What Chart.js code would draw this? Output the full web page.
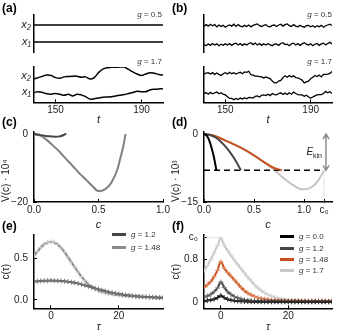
<!DOCTYPE html>
<html lang="en">
<head>
<meta charset="UTF-8">
<title>Potential and correlation panels</title>
<script src="https://cdn.jsdelivr.net/npm/chart.js"></script>
<style>
  body { margin: 0; width: 340px; height: 332px; background: #fff; position: relative; overflow: hidden;
         font-family: "Liberation Sans", Arial, sans-serif; }
  canvas { position: absolute; }
  .lbl { position: absolute; font-weight: bold; font-size: 12px; line-height: 12px; }
  .g { position: absolute; font-size: 8px; line-height: 9px; color: #333; white-space: nowrap; text-align: right; }
  .leg { position: absolute; font-size: 8px; line-height: 10px; color: #333; white-space: nowrap; }
  .leg .sw { display: inline-block; width: 14px; height: 3px; vertical-align: middle; margin-right: 5px; }
  .ekin { position: absolute; font-size: 10px; line-height: 10px; color: #222; }
  .ekin sub { font-size: 7px; }
</style>
</head>
<body>

<canvas id="aTop" width="175" height="45" style="left:0;top:10px"></canvas>
<canvas id="aBot" width="175" height="70" style="left:0;top:57px"></canvas>
<canvas id="bTop" width="170" height="45" style="left:170px;top:10px"></canvas>
<canvas id="bBot" width="170" height="70" style="left:170px;top:57px"></canvas>
<canvas id="chC" width="175" height="110" style="left:0;top:122px"></canvas>
<canvas id="chD" width="170" height="110" style="left:170px;top:122px"></canvas>
<canvas id="chE" width="175" height="107" style="left:0;top:225px"></canvas>
<canvas id="chF" width="170" height="107" style="left:170px;top:225px"></canvas>

<div class="lbl" style="left:2px;top:2px">(a)</div>
<div class="lbl" style="left:172px;top:2px">(b)</div>
<div class="lbl" style="left:2px;top:116px">(c)</div>
<div class="lbl" style="left:172px;top:116px">(d)</div>
<div class="lbl" style="left:2px;top:220px">(e)</div>
<div class="lbl" style="left:172px;top:220px">(f)</div>

<div class="g" style="right:178px;top:10px"><i>g</i> = 0.5</div>
<div class="g" style="right:178px;top:57px"><i>g</i> = 1.7</div>
<div class="g" style="right:8px;top:10px"><i>g</i> = 0.5</div>
<div class="g" style="right:8px;top:57px"><i>g</i> = 1.7</div>

<div class="ekin" style="right:18px;top:147px"><i>E</i><sub>kin</sub></div>

<div class="leg" style="left:112px;top:230px"><span class="sw" style="background:#454545"></span><i>g</i> = 1.2</div>
<div class="leg" style="left:112px;top:243px"><span class="sw" style="background:#8a8a8a"></span><i>g</i> = 1.48</div>

<div class="leg" style="left:280px;top:232px"><span class="sw" style="background:#000"></span><i>g</i> = 0.0</div>
<div class="leg" style="left:280px;top:243.5px"><span class="sw" style="background:#454545"></span><i>g</i> = 1.2</div>
<div class="leg" style="left:280px;top:255px"><span class="sw" style="background:#c8501e"></span><i>g</i> = 1.48</div>
<div class="leg" style="left:280px;top:265.5px"><span class="sw" style="background:#c8c8c8"></span><i>g</i> = 1.7</div>

<script>
// (a) traces, t every 2 units
const tA = [140, 142, 144, 146, 148, 150, 152, 154, 156, 158, 160, 162, 164, 166, 168, 170,
            172, 174, 176, 178, 180, 182, 184, 186, 188, 190, 192, 194, 196, 198, 200];
const aFlatT = [140, 200];
const aFlatX2 = [7.3, 7.3];
const aFlatX1 = [2.7, 2.7];
const aSlowX2 = [6.6, 7.0, 7.4, 7.7, 7.6, 7.0, 6.8, 7.2, 7.3, 7.4, 7.4, 7.1, 7.2, 6.6, 7.0, 8.4,
                 9.4, 9.8, 9.9, 9.9, 10.0, 10.0, 9.3, 8.6, 8.0, 7.6, 8.0, 8.4, 8.2, 7.9, 7.7];
const aSlowX1 = [2.8, 3.0, 2.8, 2.4, 2.3, 2.5, 2.3, 2.0, 2.3, 1.8, 2.3, 2.1, 1.6, 0.9, 1.0, 1.2,
                 1.4, 1.5, 1.6, 1.8, 2.0, 2.2, 2.5, 2.8, 3.1, 3.0, 3.0, 3.5, 3.7, 3.8, 3.8];

// (b) noisy traces, t every unit
const tB = [140, 141, 142, 143, 144, 145, 146, 147, 148, 149,
            150, 151, 152, 153, 154, 155, 156, 157, 158, 159,
            160, 161, 162, 163, 164, 165, 166, 167, 168, 169,
            170, 171, 172, 173, 174, 175, 176, 177, 178, 179,
            180, 181, 182, 183, 184, 185, 186, 187, 188, 189,
            190, 191, 192, 193, 194, 195, 196, 197, 198, 199, 200];
const bLowX2 = [7.0, 7.4, 7.0, 7.5, 7.1, 7.4, 6.8, 7.3, 6.9, 7.2,
                6.7, 7.1, 7.3, 7.0, 7.5, 6.9, 7.4, 7.0, 6.8, 7.2,
                6.9, 7.3, 6.8, 7.2, 7.4, 7.6, 7.1, 6.9, 7.2, 7.4,
                6.9, 6.8, 7.2, 7.3, 6.9, 7.3, 7.5, 7.0, 7.4, 7.6,
                7.1, 6.9, 7.4, 7.0, 6.8, 7.2, 6.9, 6.7, 7.1, 7.2,
                6.8, 7.1, 6.7, 7.1, 6.8, 7.2, 6.7, 7.1, 7.3, 7.5, 7.2];
const bLowX1 = [2.0, 1.7, 2.2, 1.8, 2.3, 1.9, 2.2, 1.7, 2.1, 1.8,
                2.2, 1.9, 2.3, 1.8, 2.2, 2.4, 1.9, 2.3, 1.8, 2.2,
                1.9, 2.3, 2.5, 2.0, 2.4, 1.9, 2.3, 1.8, 2.2, 1.9,
                2.3, 1.9, 1.7, 2.1, 2.2, 1.8, 2.3, 2.5, 2.0, 2.1,
                1.7, 2.2, 2.4, 1.9, 2.3, 1.8, 2.2, 2.5, 2.1, 1.9,
                2.2, 1.7, 2.1, 2.3, 1.8, 2.2, 2.4, 1.9, 2.3, 2.6, 2.2];
const bHighX2 = [8.0, 8.3, 8.4, 8.0, 8.4, 7.9, 8.3, 7.9, 7.6, 8.1,
                 8.4, 8.0, 8.5, 8.1, 8.4, 8.0, 8.3, 8.5, 8.1, 8.6,
                 8.5, 8.8, 7.8, 7.7, 7.4, 7.4, 7.3, 7.2, 6.9, 7.2,
                 6.9, 6.7, 6.0, 5.5, 5.5, 6.0, 6.2, 7.0, 7.5, 7.1,
                 7.6, 7.2, 7.5, 7.0, 6.9, 6.6, 6.3, 5.5, 5.8, 6.0,
                 6.7, 7.1, 7.6, 7.3, 7.7, 7.2, 7.9, 7.9, 8.0, 8.2, 8.7];
const bHighX1 = [2.5, 2.7, 2.3, 2.8, 2.4, 2.7, 2.9, 2.4, 2.7, 2.3,
                 2.1, 1.6, 1.1, 1.1, 0.7, 1.1, 0.8, 1.2, 0.9, 1.3,
                 1.0, 1.4, 1.3, 1.2, 1.7, 1.8, 1.5, 2.0, 2.1, 1.9,
                 2.3, 1.9, 2.5, 2.2, 2.1, 2.5, 2.7, 2.2, 2.6, 2.2,
                 2.7, 2.3, 2.9, 2.5, 2.2, 2.1, 2.1, 1.7, 2.0, 1.5,
                 1.2, 1.5, 1.8, 2.1, 2.2, 2.2, 2.5, 3.1, 2.7, 3.0, 2.5];

// (c) potential V(c) in units of 1e-4
const cBigC = [0, 0.05, 0.1, 0.15, 0.2, 0.25, 0.3, 0.35, 0.4, 0.45, 0.5, 0.55, 0.6, 0.65, 0.67, 0.69, 0.71];
const cBigV = [0, -0.5, -1.8, -3.5, -5.3, -7.4, -9.4, -11.5, -13.3, -15.2, -16.8, -16.3, -14.3, -10.0, -7.0, -4.0, 0];
const cSmallC = [0, 0.04, 0.08, 0.12, 0.16, 0.2, 0.23, 0.25];
const cSmallV = [0, -0.25, -0.5, -0.7, -0.8, -0.7, -0.3, 0.1];

// (d) potential V(c) in units of 1e-3
const c0 = 1.2;
const eLevel = -8;
const ekinC = 1.22;
const dBlackC = [0, 0.02, 0.04, 0.06, 0.08, 0.1, 0.124];
const dBlackV = [0, -0.2, -0.8, -1.9, -3.4, -5.2, -8];
const dDarkC = [0, 0.05, 0.1, 0.15, 0.2, 0.25, 0.3, 0.37];
const dDarkV = [0, -0.15, -0.6, -1.3, -2.4, -3.7, -5.3, -8];
const dOrangeC = [0, 0.1, 0.2, 0.3, 0.4, 0.5, 0.6, 0.7, 0.78];
const dOrangeV = [0, -0.35, -1.3, -2.3, -3.4, -4.7, -6.2, -7.5, -8.0];
const dLightC = [0, 0.1, 0.2, 0.3, 0.4, 0.5, 0.6, 0.7, 0.8, 0.9, 0.98, 1.05, 1.1, 1.15, 1.2];
const dLightV = [0, -0.35, -1.3, -2.3, -3.4, -4.7, -6.2, -7.9, -9.8, -11.4, -12.2, -12.0, -11.3, -10.0, -8.0];

// (e), (f) correlation c(tau)
const tau = [-5, -4, -3, -2, -1, 0, 1, 2, 3, 4, 5, 6, 7, 8, 9, 10, 11, 12, 13, 14,
             15, 16, 17, 18, 19, 20, 21, 22, 23, 24, 25, 26, 27, 28, 29, 30, 31, 32, 33];
const eG12 = [0.22, 0.225, 0.228, 0.23, 0.232, 0.233, 0.232, 0.23, 0.228, 0.225,
              0.22, 0.214, 0.206, 0.197, 0.187, 0.176, 0.164, 0.152, 0.14, 0.128,
              0.117, 0.106, 0.096, 0.087, 0.079, 0.072, 0.066, 0.06, 0.055, 0.05,
              0.046, 0.042, 0.039, 0.036, 0.033, 0.031, 0.029, 0.027, 0.025];
const eG148 = [0.53, 0.58, 0.63, 0.67, 0.69, 0.70, 0.69, 0.665, 0.625, 0.575,
               0.515, 0.455, 0.395, 0.335, 0.28, 0.232, 0.19, 0.158, 0.132, 0.112,
               0.097, 0.086, 0.077, 0.07, 0.064, 0.059, 0.055, 0.051, 0.048, 0.045,
               0.042, 0.04, 0.038, 0.036, 0.034, 0.032, 0.031, 0.03, 0.029];
const fG0 = [0.02, 0.025, 0.035, 0.05, 0.08, 0.12, 0.08, 0.05, 0.033, 0.022,
             0.015, 0.01, 0.007, 0.005, 0.004, 0.003, 0.003, 0.003, 0.002, 0.002,
             0.002, 0.002, 0.002, 0.002, 0.002, 0.002, 0.002, 0.002, 0.002, 0.002,
             0.002, 0.002, 0.002, 0.002, 0.002, 0.002, 0.002, 0.002, 0.002];
const fG12 = [0.09, 0.11, 0.14, 0.19, 0.26, 0.37, 0.27, 0.19, 0.14, 0.10,
              0.075, 0.055, 0.04, 0.03, 0.022, 0.017, 0.013, 0.01, 0.008, 0.007,
              0.006, 0.005, 0.005, 0.005, 0.004, 0.004, 0.004, 0.004, 0.004, 0.004,
              0.004, 0.004, 0.004, 0.004, 0.004, 0.004, 0.004, 0.004, 0.004];
const fG148 = [0.27, 0.32, 0.38, 0.47, 0.59, 0.75, 0.63, 0.55, 0.48, 0.41,
               0.34, 0.27, 0.21, 0.165, 0.13, 0.10, 0.08, 0.065, 0.053, 0.044,
               0.037, 0.032, 0.028, 0.025, 0.023, 0.021, 0.02, 0.02, 0.019, 0.019,
               0.018, 0.018, 0.018, 0.017, 0.017, 0.017, 0.017, 0.016, 0.016];
const fG17 = [0.58, 0.68, 0.79, 0.92, 1.05, 1.19, 1.06, 0.96, 0.87, 0.78,
              0.70, 0.62, 0.54, 0.46, 0.39, 0.32, 0.26, 0.21, 0.17, 0.135,
              0.11, 0.085, 0.07, 0.055, 0.045, 0.036, 0.03, 0.025, 0.02, 0.017,
              0.014, 0.012, 0.01, 0.009, 0.008, 0.007, 0.006, 0.005, 0.005];

const ORANGE = '#c8501e';
const FONT = '"Liberation Sans", Arial, sans-serif';
Chart.defaults.font.family = FONT;
Chart.defaults.font.size = 10;
Chart.defaults.color = '#222';

const pts = (xs, ys) => xs.map((x, i) => ({ x: x, y: ys[i] }));

function zeroPad(s) {
    s.paddingLeft = 0; s.paddingRight = 0; s.paddingTop = 0; s.paddingBottom = 0;
}

function line(xs, ys, color, width, extra) {
    return Object.assign({
        data: pts(xs, ys), borderColor: color, borderWidth: width,
        pointRadius: 0, fill: false, tension: 0
    }, extra || {});
}

function build(id, o) {
    const sx = {
        type: 'linear', min: o.x.min, max: o.x.max, display: o.x.show !== false,
        afterBuildTicks: s => { s.ticks = o.x.ticks.map(v => ({ value: v })); },
        afterFit: s => { s.height = o.x.h || 0; zeroPad(s); },
        ticks: { autoSkip: false, maxRotation: 0, padding: 5, callback: (v, i) => o.x.labels[i] },
        grid: { display: true, drawOnChartArea: false, drawTicks: true, tickLength: -3, color: '#000', lineWidth: 1 },
        border: { display: true, color: '#000', width: 1.5 },
        title: { display: !!o.x.title, text: o.x.title || '', padding: 0,
                 font: { size: 11, style: 'italic', lineHeight: 1 } }
    };
    const sy = {
        type: 'linear', min: o.y.min, max: o.y.max,
        afterBuildTicks: s => { s.ticks = o.y.ticks.map(v => ({ value: v })); },
        afterFit: s => { s.width = 34; zeroPad(s); },
        ticks: { autoSkip: false, padding: o.y.marks === false ? 3 : 9,
                 font: o.y.font || { size: 10 }, callback: (v, i) => o.y.labels[i] },
        grid: { display: true, drawOnChartArea: false, drawTicks: o.y.marks !== false, tickLength: -3, color: '#000', lineWidth: 1 },
        border: { display: true, color: '#000', width: 1.5 },
        title: { display: !!o.y.title, text: o.y.title || '', align: o.y.align || 'center',
                 padding: { top: 1, bottom: 0 }, font: { size: 10, lineHeight: 1 } }
    };
    return new Chart(document.getElementById(id), {
        type: 'line',
        data: { datasets: o.datasets },
        options: {
            responsive: false, devicePixelRatio: 1, animation: false,
            layout: { padding: o.pad },
            scales: { x: sx, y: sy },
            plugins: { legend: { display: false }, tooltip: { enabled: false } }
        },
        plugins: o.plugins || []
    });
}

const xLab = { size: 11, style: 'italic' };

// (a) top: g = 0.5, fixed point
build('aTop', {
    pad: { left: 0, right: 12, top: 5, bottom: 3 },
    x: { min: 140, max: 200, show: false, ticks: [], labels: [] },
    y: { min: 0, max: 10, ticks: [2.7, 7.3], labels: ['x\u2081', 'x\u2082'], marks: false, font: xLab },
    datasets: [line(aFlatT, aFlatX2, '#000', 1.5), line(aFlatT, aFlatX1, '#000', 1.5)]
});
// (a) bottom: g = 1.7
build('aBot', {
    pad: { left: 0, right: 12, top: 10, bottom: 2 },
    x: { min: 140, max: 200, ticks: [150, 190], labels: ['150', '190'], title: 't', h: 22.7 },
    y: { min: 0, max: 10, ticks: [2.8, 7.4], labels: ['x\u2081', 'x\u2082'], marks: false, font: xLab },
    datasets: [line(tA, aSlowX2, '#000', 1.5, { tension: 0.35 }), line(tA, aSlowX1, '#000', 1.5, { tension: 0.35 })]
});
// (b) top: noisy, g = 0.5
build('bTop', {
    pad: { left: 0, right: 8, top: 5, bottom: 3 },
    x: { min: 140, max: 200, show: false, ticks: [], labels: [] },
    y: { min: 0, max: 10, ticks: [], labels: [], marks: false },
    datasets: [line(tB, bLowX2, '#000', 1.3), line(tB, bLowX1, '#000', 1.3)]
});
// (b) bottom: noisy, g = 1.7
build('bBot', {
    pad: { left: 0, right: 8, top: 10, bottom: 2 },
    x: { min: 140, max: 200, ticks: [150, 190], labels: ['150', '190'], title: 't', h: 22.7 },
    y: { min: 0, max: 10, ticks: [], labels: [], marks: false },
    datasets: [line(tB, bHighX2, '#000', 1.3), line(tB, bHighX1, '#000', 1.3)]
});

// (c) potential
build('chC', {
    pad: { left: 0, right: 12, top: 9.6, bottom: 2 },
    x: { min: 0, max: 1, ticks: [0, 0.5, 1], labels: ['0.0', '0.5', '1.0'], title: 'c', h: 28 },
    y: { min: -20, max: 0.7, ticks: [-20, 0], labels: ['\u221220', '0'], title: 'V(c) \u00b7 10\u2074', align: 'start' },
    datasets: [
        line(cSmallC, cSmallV, '#444', 2, { cubicInterpolationMode: 'monotone' }),
        line(cBigC, cBigV, '#808080', 2, { cubicInterpolationMode: 'monotone' })
    ]
});

// (d) potential with energy level
const ekinArrow = {
    id: 'ekinArrow',
    afterDatasetsDraw(chart) {
        const { ctx, scales: { x, y } } = chart;
        const px = x.getPixelForValue(ekinC);
        const yTop = y.getPixelForValue(0), yBot = y.getPixelForValue(eLevel);
        ctx.save();
        ctx.strokeStyle = '#8c8c8c';
        ctx.lineWidth = 1.5;
        ctx.beginPath();
        ctx.moveTo(px, yTop); ctx.lineTo(px, yBot);
        ctx.moveTo(px - 3, yTop + 5); ctx.lineTo(px, yTop); ctx.lineTo(px + 3, yTop + 5);
        ctx.moveTo(px - 3, yBot - 5); ctx.lineTo(px, yBot); ctx.lineTo(px + 3, yBot - 5);
        ctx.stroke();
        ctx.restore();
    }
};
build('chD', {
    pad: { left: 0, right: 8, top: 10.2, bottom: 2 },
    x: { min: 0, max: 1.28, ticks: [0, 0.5, 1, c0], labels: ['0.0', '0.5', '1.0', 'c\u2080'], title: 'c', h: 28 },
    y: { min: -15, max: 0.4, ticks: [-15, 0], labels: ['\u221215', '0'], title: 'V(c) \u00b7 10\u00b3', align: 'start' },
    datasets: [
        line(dBlackC, dBlackV, '#000', 2, { cubicInterpolationMode: 'monotone' }),
        line(dDarkC, dDarkV, '#454545', 2, { cubicInterpolationMode: 'monotone' }),
        line(dOrangeC, dOrangeV, ORANGE, 2, { cubicInterpolationMode: 'monotone' }),
        line([0, c0], [eLevel, eLevel], '#000', 1.5, { borderDash: [6, 4] }),
        line(dLightC, dLightV, '#c4c4c4', 2, { cubicInterpolationMode: 'monotone' }),
        line([c0, c0], [eLevel, -15], '#bbbbbb', 1, { borderDash: [1, 1.5] })
    ],
    plugins: [ekinArrow]
});

// (e) correlation
function corr(ys, color, mark, width) {
    return line(tau, ys, color, width || 2, {
        cubicInterpolationMode: 'monotone', pointStyle: 'cross', pointRadius: 2.5,
        pointBorderColor: mark, pointBorderWidth: 1, pointBackgroundColor: mark
    });
}
build('chE', {
    pad: { left: 0, right: 12, top: 10, bottom: 0 },
    x: { min: -5, max: 33, ticks: [0, 20], labels: ['0', '20'], title: '\u03c4', h: 23.7 },
    y: { min: -0.1, max: 0.78, ticks: [0, 0.5], labels: ['0.0', '0.5'], title: 'c(\u03c4)' },
    datasets: [corr(eG12, '#454545', '#777'), corr(eG148, '#8a8a8a', '#c4c4c4')]
});

// (f) correlation
build('chF', {
    pad: { left: 0, right: 8, top: 10, bottom: 0 },
    x: { min: -5, max: 33, ticks: [0, 20], labels: ['0', '20'], title: '\u03c4', h: 23.7 },
    y: { min: -0.12, max: 1.25, ticks: [0, 0.8, c0], labels: ['0', '0.8', 'c\u2080'], title: 'c(\u03c4)' },
    datasets: [
        corr(fG0, '#000', '#333'),
        corr(fG12, '#454545', '#777'),
        corr(fG148, ORANGE, '#e08a60'),
        corr(fG17, '#c8c8c8', '#d8d8d8'),
        line([-5, 0], [c0, c0], '#bbbbbb', 1, { borderDash: [1, 1.5] })
    ]
});
</script>
</body>
</html>
